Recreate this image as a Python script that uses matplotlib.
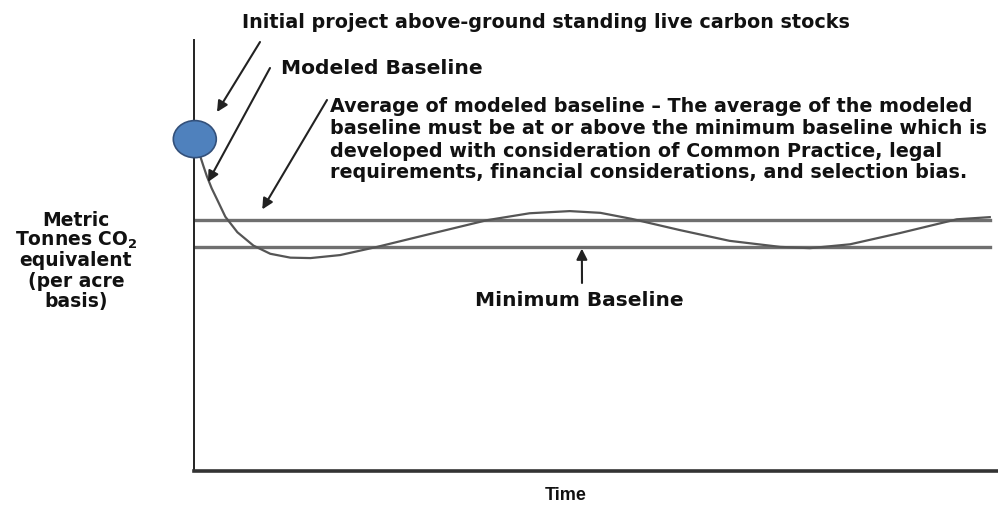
import matplotlib
matplotlib.use("Agg")
import matplotlib.pyplot as plt
from matplotlib.patches import Ellipse

plt.rcParams['font.family'] = ['DejaVu Sans']
plt.rcParams['font.weight'] = 'bold'

# conceptual data (time units 0-100, arbitrary carbon units 0-100)
time = [0.8, 1.2, 1.6, 2.2, 2.9, 3.9, 5.4, 7.4, 9.5, 12.0, 14.5, 18.2, 22.8,
        29.4, 36.5, 41.8, 46.8, 50.6, 54.5, 60.5, 66.7, 73.0, 76.7, 81.7,
        87.9, 95.0, 99.1]
modeled_baseline = [72.9, 70.6, 68.4, 65.6, 62.9, 59.0, 55.4, 52.3, 50.4, 49.5,
                    49.4, 50.1, 52.0, 55.0, 58.2, 59.8, 60.3, 59.9, 58.5, 55.9,
                    53.4, 52.0, 51.7, 52.6, 55.2, 58.4, 58.9]
baseline_span = [0.0, 99.1]
average_baseline = 58.2
minimum_baseline = 52.0
initial_time = 0.1
initial_stock = 77.0

block_lines = [
    "Average of modeled baseline \u2013 The average of the modeled",
    "baseline must be at or above the minimum baseline which is",
    "developed with consideration of Common Practice, legal",
    "requirements, financial considerations, and selection bias.",
]
ylabel_lines = ["Metric", "Tonnes CO$_\\mathbf{2}$", "equivalent", "(per acre", "basis)"]

W, H = 998, 514


def fx(x):
    return x / W


def fy(y):
    return 1 - y / H


fig = plt.figure(figsize=(W / 100, H / 100), dpi=100)
ax = fig.add_axes([fx(194), fy(471), (997 - 194) / W, (471 - 40) / H])
ax.set_xlim(0, 100)
ax.set_ylim(0, 100)
ax.set_xticks([])
ax.set_yticks([])
for s in ['top', 'right']:
    ax.spines[s].set_visible(False)
ax.spines['left'].set_color('#222222')
ax.spines['left'].set_linewidth(1.4)
ax.spines['bottom'].set_color('#333333')
ax.spines['bottom'].set_linewidth(2.6)

grey = '#6f6f6f'
ax.plot(baseline_span, [average_baseline] * 2, color=grey, lw=2.4, zorder=2)
ax.plot(baseline_span, [minimum_baseline] * 2, color=grey, lw=2.4, zorder=2)
ax.plot(time, modeled_baseline, color='#555555', lw=1.6, zorder=3)

ax.add_patch(Ellipse((initial_time, initial_stock), width=5.35, height=8.6,
                     facecolor='#4F81BD', edgecolor='#33507a', lw=1.2,
                     clip_on=False, zorder=5))

arrow = dict(arrowstyle='-|>', color='#222222', lw=1.5, mutation_scale=16,
             shrinkA=0, shrinkB=0)

# initial stocks
ax.annotate('', xy=(fx(217), fy(112)), xycoords='figure fraction',
            xytext=(fx(260), fy(42)), textcoords='figure fraction',
            arrowprops=arrow, annotation_clip=False)
# modeled baseline
ax.annotate('', xy=(fx(208), fy(182)), xycoords='figure fraction',
            xytext=(fx(270), fy(68)), textcoords='figure fraction',
            arrowprops=arrow, annotation_clip=False)
# average of modeled baseline
ax.annotate('', xy=(8.5, average_baseline + 2.5), xycoords='data',
            xytext=(fx(327), fy(100)), textcoords='figure fraction',
            arrowprops=arrow, annotation_clip=False)
# minimum baseline
ax.annotate('', xy=(48.3, minimum_baseline - 0.4), xycoords='data',
            xytext=(fx(582), fy(283)), textcoords='figure fraction',
            arrowprops=arrow, annotation_clip=False)

tc = '#111111'
fig.text(fx(242), fy(23), "Initial project above-ground standing live carbon stocks",
         fontsize=13.8, color=tc, va='center', ha='left')
fig.text(fx(281), fy(68), "Modeled Baseline", fontsize=14.6, color=tc,
         va='center', ha='left')
for i, line in enumerate(block_lines):
    fig.text(fx(330), fy(107 + 22 * i), line, fontsize=13.8, color=tc,
             va='center', ha='left')
fig.text(fx(579), fy(300), "Minimum Baseline", fontsize=14.5, color=tc,
         va='center', ha='center')
fig.text(fx(566), fy(496), "Time", fontsize=13, color=tc, va='center', ha='center',
         family='Liberation Sans')
for i, line in enumerate(ylabel_lines):
    fig.text(fx(76), fy(220 + 20.5 * i), line, fontsize=13.5, color=tc,
             va='center', ha='center')

fig.savefig('out.png', dpi=100)
